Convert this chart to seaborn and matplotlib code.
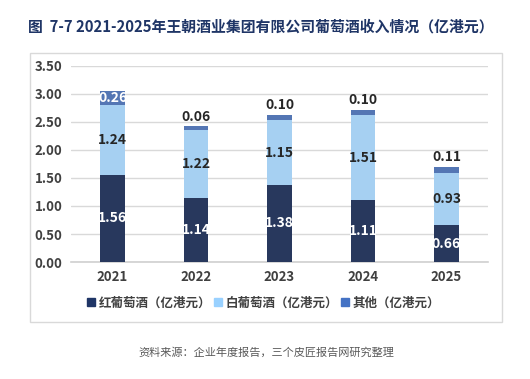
import matplotlib
matplotlib.use("Agg")
import matplotlib.pyplot as plt
import matplotlib.patches as mpatches
from matplotlib.lines import Line2D
import pandas as pd
import seaborn as sns

years = ["2021", "2022", "2023", "2024", "2025"]
red_wine = [1.56, 1.14, 1.38, 1.11, 0.66]
white_wine = [1.24, 1.22, 1.15, 1.51, 0.93]
other = [0.26, 0.06, 0.10, 0.10, 0.11]
series_names = ["红葡萄酒（亿港元）", "白葡萄酒（亿港元）", "其他（亿港元）"]
colors = ["#1F3566", "#99D1FF", "#4472C4"]
yticks = [0, 0.5, 1.0, 1.5, 2.0, 2.5, 3.0, 3.5]

sns.set_style("white")
plt.rcParams["font.family"] = ["Noto Sans CJK SC", "DejaVu Sans"]

df = pd.DataFrame({"year": years, "red": red_wine, "white": white_wine, "other": other})
df["b_white"] = df["red"]
df["b_other"] = df["red"] + df["white"]

fig = plt.figure(figsize=(5.3, 3.79), dpi=100)
ax = fig.add_axes([0.1335, 0.3087, 0.7877, 0.5172])

# outer frame of the chart
fig.patches.append(mpatches.Rectangle((0.0566, 0.150), 0.8906, 0.7098, transform=fig.transFigure,
                                      fill=False, edgecolor="#D9D9D9", linewidth=1.0, zorder=0))

bar_kws = dict(width=0.29, ax=ax, zorder=3, linewidth=0, edgecolor="none")
sns.barplot(data=df, x="year", y="red", color=colors[0], **bar_kws)
sns.barplot(data=df, x="year", y="white", bottom=df["b_white"], color=colors[1], **bar_kws)
sns.barplot(data=df, x="year", y="other", bottom=df["b_other"], color=colors[2], **bar_kws)

ax.set_ylim(0, 3.5)
ax.set_xlim(-0.5, 4.5)
ax.set_yticks(yticks)
ax.set_yticklabels([f"{t:.2f}" for t in yticks])
ax.yaxis.grid(True, color="#D9D9D9", linewidth=1.0, zorder=0)
ax.set_axisbelow(True)
for s in ["top", "right", "left"]:
    ax.spines[s].set_visible(False)
ax.spines["bottom"].set_color("#D0D0D0")
ax.spines["bottom"].set_linewidth(1.2)
ax.tick_params(axis="both", length=0, labelsize=9.5, labelcolor="#404040")
ax.tick_params(axis="y", pad=6)
ax.tick_params(axis="x", pad=6)
for lbl in ax.get_xticklabels() + ax.get_yticklabels():
    lbl.set_fontweight("bold")
ax.set_xlabel("")
ax.set_ylabel("")

# value labels
for i in range(len(years)):
    r, w, o = red_wine[i], white_wine[i], other[i]
    ax.text(i, r / 2, f"{r:.2f}", ha="center", va="center", color="white",
            fontsize=10, fontweight="bold", zorder=5)
    ax.text(i, r + w / 2, f"{w:.2f}", ha="center", va="center", color="#262626",
            fontsize=10, fontweight="bold", zorder=5)
    if o >= 0.2:
        ax.text(i, r + w + o / 2, f"{o:.2f}", ha="center", va="center", color="white",
                fontsize=10, fontweight="bold", zorder=5)
    else:
        ax.text(i, r + w + o + 0.05, f"{o:.2f}", ha="center", va="bottom", color="#262626",
                fontsize=10, fontweight="bold", zorder=5)

handles = [Line2D([], [], marker="s", linestyle="", markersize=6, color=c) for c in colors]
leg = fig.legend(handles, series_names, loc="center", bbox_to_anchor=(0.497, 0.20), ncol=3,
                 frameon=False, handlelength=0.7, handletextpad=0.25, columnspacing=0.2,
                 fontsize=9)
for t in leg.get_texts():
    t.set_fontweight("bold")
    t.set_color("#404040")

fig.text(0.052, 0.93, "图  7-7 2021-2025年王朝酒业集团有限公司葡萄酒收入情况（亿港元）",
         ha="left", va="center", fontsize=10.7, fontweight="bold", color="#1F3566")
fig.text(0.502, 0.071, "资料来源：企业年度报告，三个皮匠报告网研究整理",
         ha="center", va="center", fontsize=8, color="#595959")

fig.savefig("out.png", dpi=100)
